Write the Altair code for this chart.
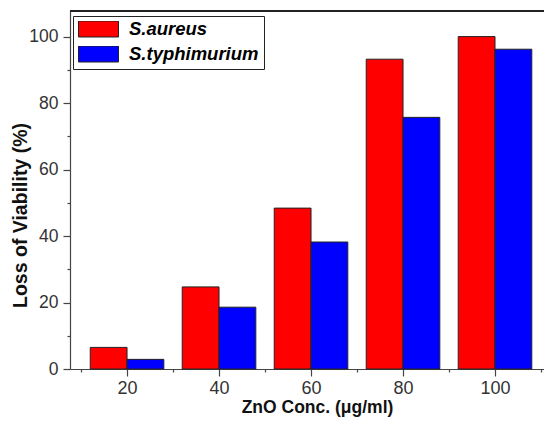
import altair as alt
import pandas as pd

# ---- data ----
conc = [20, 40, 60, 80, 100]
species = ["S.aureus", "S.typhimurium"]
aureus = [6.5, 24.7, 48.4, 93.2, 100.0]
typhimurium = [2.9, 18.6, 38.2, 75.7, 96.2]
colors = ["#ff0000", "#0000ff"]
x_ticks = [10, 20, 30, 40, 50, 60, 70, 80, 90, 100, 110]
y_ticks = [0, 10, 20, 30, 40, 50, 60, 70, 80, 90, 100]

rows = []
for c, a, t in zip(conc, aureus, typhimurium):
    rows.append({"conc": c, "species": species[0], "value": a})
    rows.append({"conc": c, "species": species[1], "value": t})
df = pd.DataFrame(rows)

half = 8  # bar width in data units
FONT = "Liberation Sans"
AXC = "#444444"

minor_x = {"condition": {"test": "datum.value % 20 != 0", "value": 3}, "value": 7}
minor_y = {"condition": {"test": "datum.value % 20 != 0", "value": 3}, "value": 7}

bars = alt.Chart(df).transform_calculate(
    x0=f"datum.species == '{species[0]}' ? datum.conc - {half} : datum.conc",
    x1=f"datum.species == '{species[0]}' ? datum.conc : datum.conc + {half}",
).mark_bar(stroke="#222222", strokeWidth=1, opacity=1).encode(
    x=alt.X(
        "x0:Q",
        scale=alt.Scale(domain=[7.6, 110.65], nice=False, zero=False),
        axis=alt.Axis(
            values=x_ticks,
            labelExpr="datum.value % 20 == 0 ? datum.label : ''",
            tickSize=minor_x,
            grid=False,
            domainColor=AXC,
            domainWidth=1.2,
            tickColor=AXC,
            tickWidth=1.2,
            labelFont=FONT,
            labelFontSize=18,
            labelColor="#333333",
            labelPadding=3,
            title="ZnO Conc. (μg/ml)",
            titleFont=FONT,
            titleFontSize=17.5,
            titleFontWeight="bold",
            titleColor="#111111",
            titleX=247,
            titleY=29,
            titleBaseline="top",
        ),
    ),
    x2="x1:Q",
    y=alt.Y(
        "value:Q",
        scale=alt.Scale(domain=[0, 107.7], nice=False),
        axis=alt.Axis(
            values=y_ticks,
            labelExpr="datum.value % 20 == 0 ? datum.label : ''",
            tickSize=minor_y,
            grid=False,
            domainColor=AXC,
            domainWidth=1.2,
            tickColor=AXC,
            tickWidth=1.2,
            labelFont=FONT,
            labelFontSize=17.5,
            labelColor="#333333",
            labelPadding=5,
            title="Loss of Viability (%)",
            titleFont=FONT,
            titleFontSize=19.5,
            titleFontWeight="bold",
            titleColor="#111111",
            titleX=-40,
            titleY=204,
            titleBaseline="bottom",
        ),
    ),
    y2=alt.datum(0),
    color=alt.Color(
        "species:N",
        scale=alt.Scale(domain=species, range=colors),
        legend=alt.Legend(
            title=None,
            orient="none",
            legendX=3,
            legendY=5,
            symbolType="M-1,-0.4H1V0.4H-1Z",
            symbolSize=1600,
            symbolStrokeColor="#222222",
            symbolStrokeWidth=1,
            symbolOpacity=1,
            clipHeight=16,
            labelFont=FONT,
            labelFontSize=18.5,
            labelFontStyle="italic",
            labelFontWeight="bold",
            labelColor="#000000",
            labelOffset=10,
            padding=5,
            rowPadding=6,
            strokeColor="#222222",
            fillColor="#ffffff",
            cornerRadius=0,
        ),
    ),
)

frame_top = alt.Chart(df).mark_rule(color="#222222", strokeWidth=1.2).encode(
    y=alt.value(0)
)

chart = alt.layer(bars, frame_top).properties(
    width=474,
    height=358,
    padding={"left": 62, "top": 3, "right": 0, "bottom": 48},
    autosize=alt.AutoSizeParams(type="none"),
).configure_view(stroke=None).configure(background="white")

chart.save("out.html", embed_options={"renderer": "svg", "actions": False})
